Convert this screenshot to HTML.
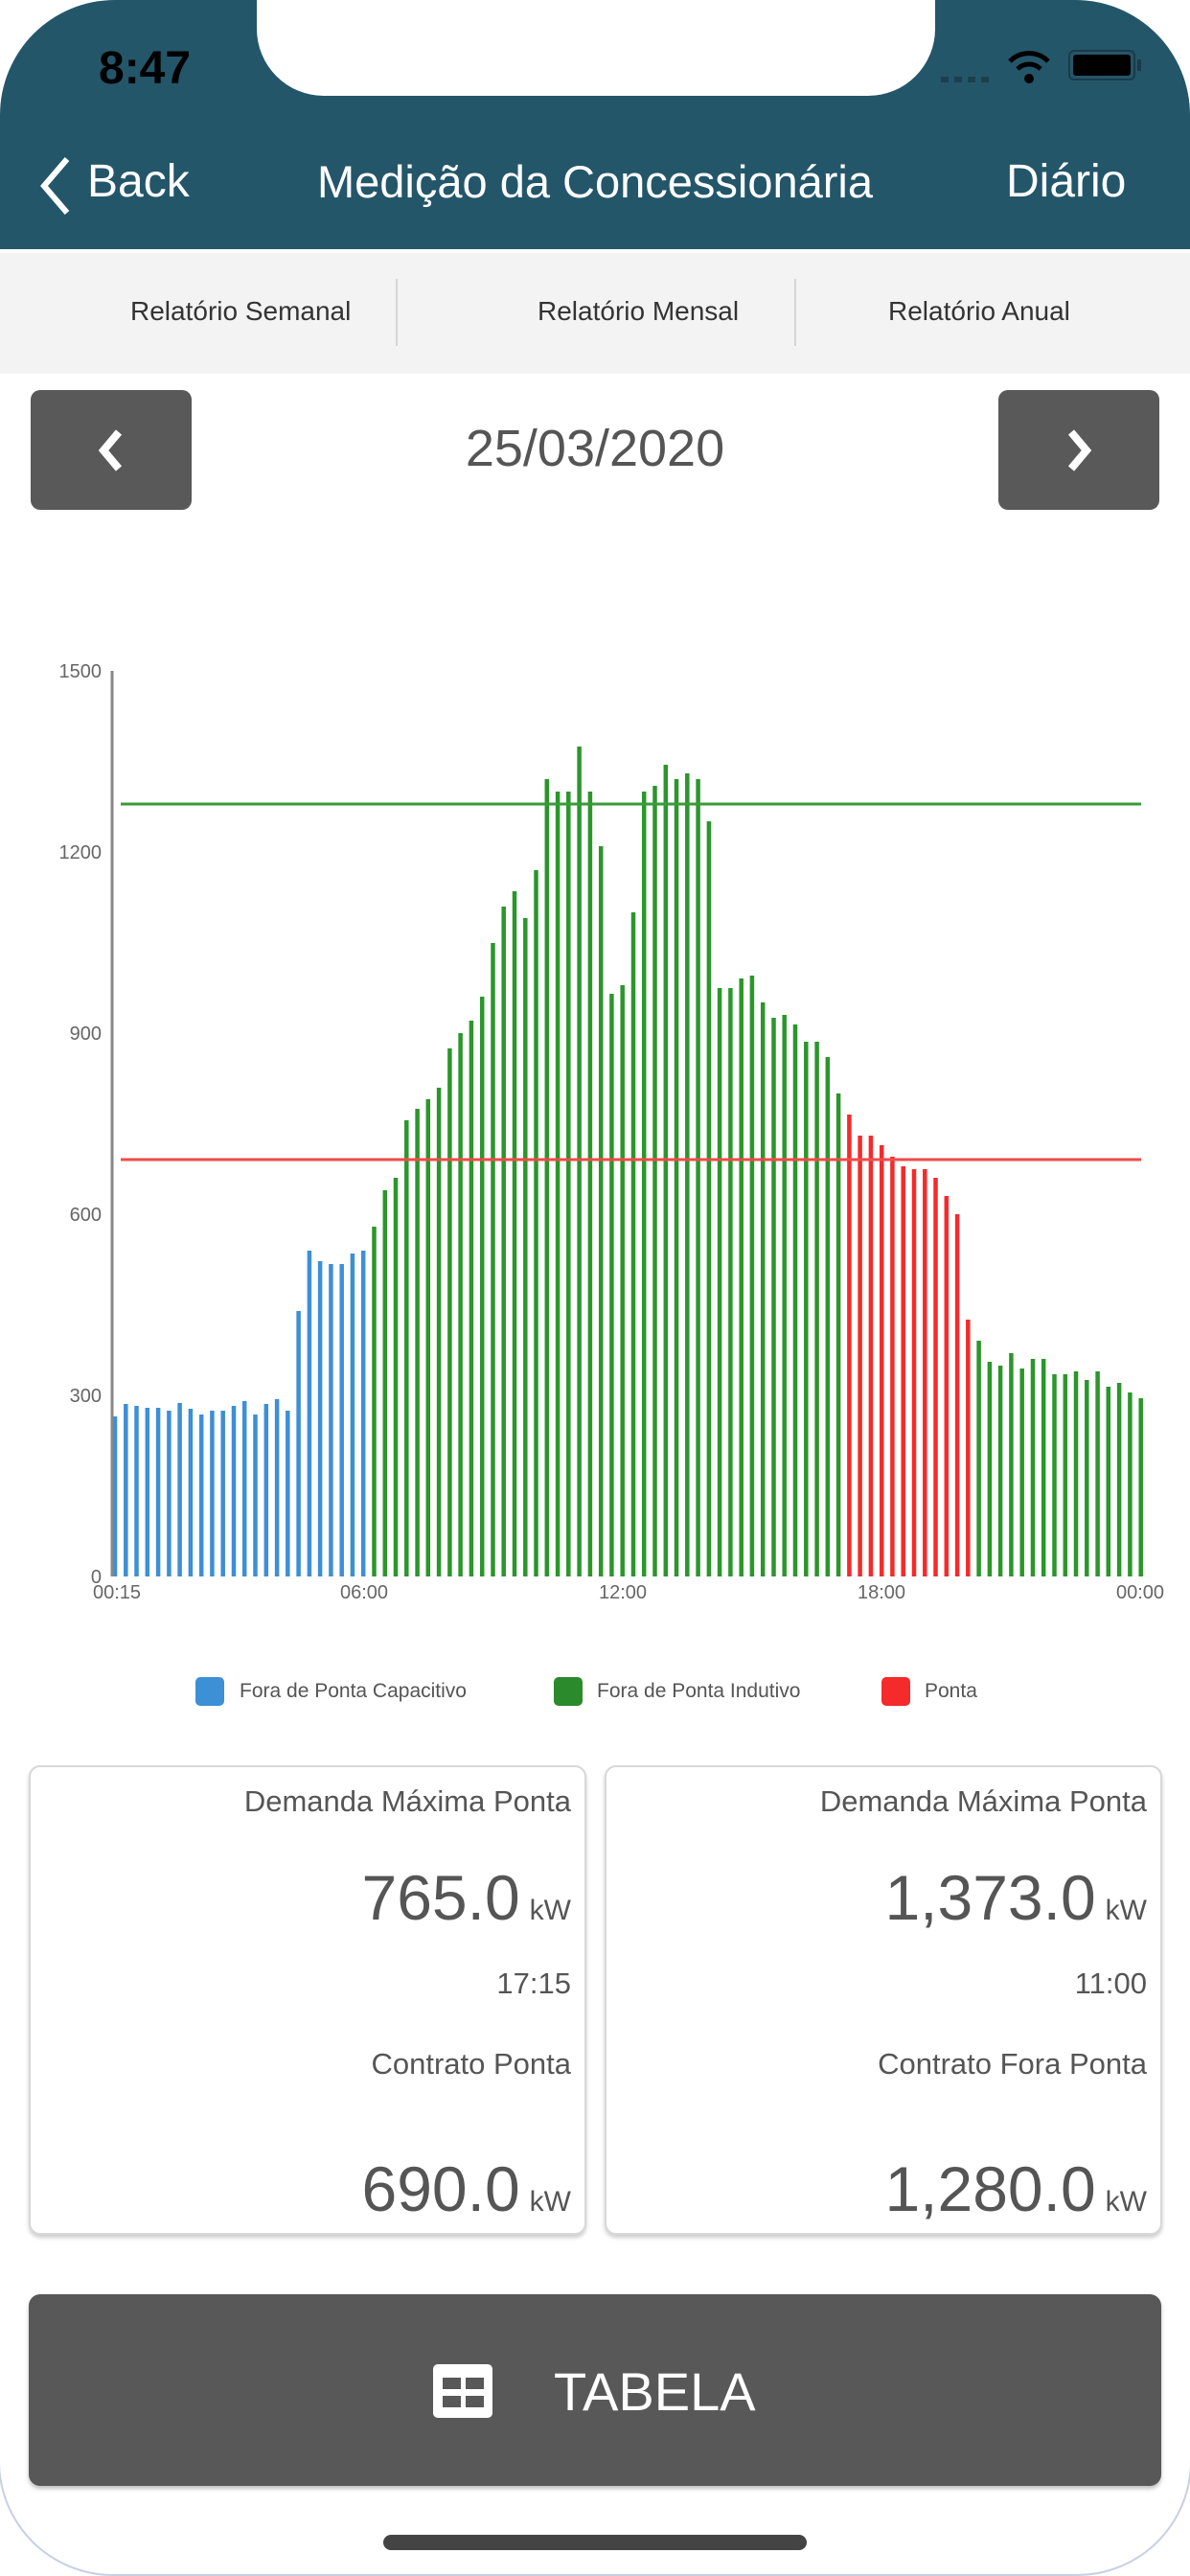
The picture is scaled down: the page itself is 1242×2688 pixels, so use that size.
<!DOCTYPE html>
<html><head><meta charset="utf-8"><style>
*{margin:0;padding:0;box-sizing:border-box}
body{width:1242px;height:2688px;background:#fff;position:relative;overflow:hidden;font-family:"Liberation Sans",sans-serif}
.abs{position:absolute}
#hdr{left:0;top:0;width:1242px;height:260px;background:#24566a;border-radius:120px 120px 0 0}
#notch{left:268px;top:0;width:708px;height:100px;background:#fff;border-radius:0 0 70px 70px}
.nav{color:#fff;font-size:48px;top:160px;line-height:60px}
#seg{left:0;top:264px;width:1242px;height:126px;background:#f3f3f3}
.segt{top:308px;font-size:28px;color:#333;line-height:34px}
.div{top:291px;width:2px;height:70px;background:#d6d6d6}
.btn{top:407px;width:168px;height:125px;background:#595959;border-radius:10px}
.card{top:1842px;width:582px;height:490px;border:2px solid #d8d8d8;border-radius:12px;box-shadow:0 3px 4px rgba(0,0,0,.2);background:#fff}
.card div{position:absolute;right:14px;color:#555;text-align:right;white-space:nowrap}
.lab{font-size:31px}
.val{font-size:66px}
.val span{font-size:30px;margin-left:10px}
.leg{top:1751px;font-size:21px;color:#555;line-height:28px}
.sq{top:1750px;width:30px;height:30px;border-radius:5px}
</style></head><body>
<div class="abs" id="hdr"></div>
<div class="abs" id="notch"></div>
<div class="abs" style="left:103px;top:44px;font-size:48px;font-weight:bold;color:#000">8:47</div>
<div class="abs" style="left:982px;top:80px;width:54px;height:6px;background:repeating-linear-gradient(90deg,#1c3f4f 0 8px,transparent 8px 14px)"></div>
<svg class="abs" style="left:1050px;top:52px" width="48" height="36" viewBox="0 0 48 36"><path d="M4 12 A28 28 0 0 1 44 12" stroke="#000" stroke-width="5" fill="none"/><path d="M12 20 A17 17 0 0 1 36 20" stroke="#000" stroke-width="5" fill="none"/><circle cx="24" cy="30" r="5" fill="#000"/></svg>
<div class="abs" style="left:1115px;top:52px;width:70px;height:32px;border:2px solid #1a3a48;border-radius:6px;padding:3px"><div style="width:100%;height:100%;background:#000;border-radius:3px"></div></div>
<div class="abs" style="left:1187px;top:62px;width:4px;height:12px;background:#1a3a48"></div>
<svg class="abs" style="left:38px;top:162px" width="40" height="64"><path d="M32 4 L8 32 L32 60" stroke="#fff" stroke-width="6" fill="none"/></svg>
<div class="abs nav" style="left:91px">Back</div>
<div class="abs nav" style="left:295px;width:652px;text-align:center;font-size:47px">Medição da Concessionária</div>
<div class="abs nav" style="left:1050px">Diário</div>
<div class="abs" id="seg"></div>
<div class="abs segt" style="left:136px">Relatório Semanal</div>
<div class="abs div" style="left:413px"></div>
<div class="abs segt" style="left:561px">Relatório Mensal</div>
<div class="abs div" style="left:829px"></div>
<div class="abs segt" style="left:927px">Relatório Anual</div>
<div class="abs btn" style="left:32px"><svg width="168" height="125"><path d="M92 44 L76 63 L92 82" stroke="#fff" stroke-width="8" fill="none"/></svg></div>
<div class="abs btn" style="left:1042px"><svg width="168" height="125"><path d="M76 44 L92 63 L76 82" stroke="#fff" stroke-width="8" fill="none"/></svg></div>
<div class="abs" style="left:421px;width:400px;top:437px;text-align:center;font-size:54px;color:#555">25/03/2020</div>

<svg class="abs" style="left:0;top:0" width="1242" height="1700">
<g font-size="20" fill="#666" text-anchor="end" font-family="Liberation Sans,sans-serif">
<text x="106" y="707">1500</text><text x="106" y="896">1200</text><text x="106" y="1085">900</text><text x="106" y="1274">600</text><text x="106" y="1463">300</text><text x="106" y="1652">0</text>
</g>
<g font-size="20" fill="#666" text-anchor="middle" font-family="Liberation Sans,sans-serif">
<text x="122" y="1668">00:15</text><text x="380" y="1668">06:00</text><text x="650" y="1668">12:00</text><text x="920" y="1668">18:00</text><text x="1190" y="1668">00:00</text>
</g>
<path stroke="#3d8fd6" stroke-width="4.5" fill="none" d="M120 1645V1478M131.3 1645V1465M142.5 1645V1467M153.8 1645V1469M165.1 1645V1469M176.4 1645V1472M187.6 1645V1464M198.9 1645V1470M210.2 1645V1476M221.4 1645V1472M232.7 1645V1472M244 1645V1467M255.2 1645V1462M266.5 1645V1476M277.8 1645V1465M289.1 1645V1460M300.3 1645V1472M311.6 1645V1368M322.9 1645V1305M334.1 1645V1316M345.4 1645V1319M356.7 1645V1319M367.9 1645V1308M379.2 1645V1305"/>
<path stroke="#2b962b" stroke-width="4.5" fill="none" d="M390.5 1645V1280M401.8 1645V1242M413 1645V1229M424.3 1645V1169M435.6 1645V1157M446.8 1645V1147M458.1 1645V1135M469.4 1645V1094M480.6 1645V1078M491.9 1645V1065M503.2 1645V1040M514.5 1645V984M525.7 1645V946M537 1645V930M548.3 1645V958M559.5 1645V908M570.8 1645V813M582.1 1645V826M593.3 1645V826M604.6 1645V779M615.9 1645V826M627.2 1645V883M638.4 1645V1037M649.7 1645V1028M661 1645V952M672.2 1645V826M683.5 1645V820M694.8 1645V798M706 1645V813M717.3 1645V807M728.6 1645V813M739.9 1645V857M751.1 1645V1031M762.4 1645V1031M773.7 1645V1021M784.9 1645V1018M796.2 1645V1046M807.5 1645V1062M818.7 1645V1059M830 1645V1069M841.3 1645V1087M852.6 1645V1087M863.8 1645V1103M875.1 1645V1141M1021.6 1645V1399M1032.9 1645V1421M1044.1 1645V1425M1055.4 1645V1412M1066.7 1645V1428M1078 1645V1418M1089.2 1645V1418M1100.5 1645V1434M1111.8 1645V1434M1123 1645V1431M1134.3 1645V1440M1145.6 1645V1431M1156.8 1645V1447M1168.1 1645V1443M1179.4 1645V1453M1190.7 1645V1459"/>
<path stroke="#f52a2a" stroke-width="4.5" fill="none" d="M886.4 1645V1163M897.6 1645V1185M908.9 1645V1185M920.2 1645V1195M931.4 1645V1207M942.7 1645V1217M954 1645V1220M965.3 1645V1220M976.5 1645V1229M987.8 1645V1248M999.1 1645V1267M1010.3 1645V1377"/>
<line x1="126" y1="839" x2="1191" y2="839" stroke="#3a9a3a" stroke-width="3"/>
<line x1="126" y1="1210" x2="1191" y2="1210" stroke="#f24a4a" stroke-width="3"/>
<line x1="117" y1="700" x2="117" y2="1645" stroke="#888" stroke-width="3"/>
</svg>

<div class="abs sq" style="left:204px;background:#3d8fd6"></div>
<div class="abs leg" style="left:250px">Fora de Ponta Capacitivo</div>
<div class="abs sq" style="left:578px;background:#2b8a2b"></div>
<div class="abs leg" style="left:623px">Fora de Ponta Indutivo</div>
<div class="abs sq" style="left:920px;background:#f52a2a"></div>
<div class="abs leg" style="left:965px">Ponta</div>

<div class="abs card" style="left:30px">
<div class="lab" style="top:18px">Demanda Máxima Ponta</div>
<div class="val" style="top:98px">765.0<span>kW</span></div>
<div class="lab" style="top:208px">17:15</div>
<div class="lab" style="top:292px">Contrato Ponta</div>
<div class="val" style="top:402px">690.0<span>kW</span></div>
</div>
<div class="abs card" style="left:631px">
<div class="lab" style="top:18px">Demanda Máxima Ponta</div>
<div class="val" style="top:98px">1,373.0<span>kW</span></div>
<div class="lab" style="top:208px">11:00</div>
<div class="lab" style="top:292px">Contrato Fora Ponta</div>
<div class="val" style="top:402px">1,280.0<span>kW</span></div>
</div>

<div class="abs" style="left:30px;top:2394px;width:1182px;height:200px;background:#585858;border-radius:12px;box-shadow:0 3px 4px rgba(0,0,0,.25)"></div>
<div class="abs" style="left:452px;top:2467px;width:62px;height:56px;background:#fff;border-radius:5px"></div>
<div class="abs" style="left:462px;top:2481px;width:19px;height:12px;background:#585858"></div>
<div class="abs" style="left:486px;top:2481px;width:19px;height:12px;background:#585858"></div>
<div class="abs" style="left:462px;top:2500px;width:19px;height:12px;background:#585858"></div>
<div class="abs" style="left:486px;top:2500px;width:19px;height:12px;background:#585858"></div>
<div class="abs" style="left:578px;top:2466px;font-size:56px;color:#fff;line-height:60px">TABELA</div>
<div class="abs" style="left:400px;top:2645px;width:442px;height:16px;background:#444;border-radius:8px"></div>
<div class="abs" style="left:-2px;top:2300px;width:1246px;height:388px;border:2px solid #c7cfe6;border-top:none;border-radius:0 0 120px 120px"></div>
</body></html>
